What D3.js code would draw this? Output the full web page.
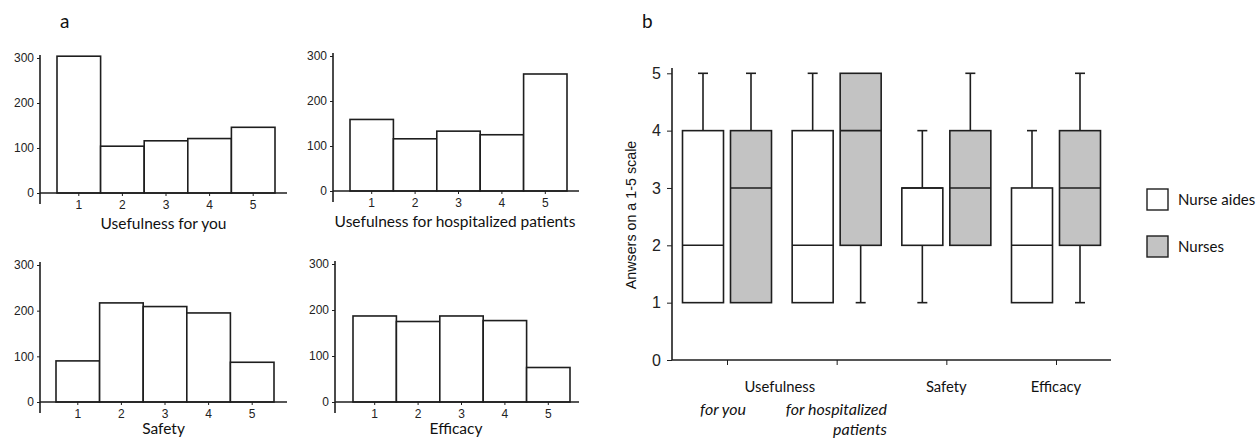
<!DOCTYPE html>
<html>
<head>
<meta charset="utf-8">
<script src="https://cdn.jsdelivr.net/npm/d3@7"></script>
<style>
  html, body { margin: 0; padding: 0; background: #fff; }
  svg { display: block; }
  .tick text { fill: #222; }
</style>
</head>
<body>
<svg id="chart" width="1258" height="438"></svg>
<script>
// ---------- DATA ----------
const histCategories = [1, 2, 3, 4, 5];
const usefulnessForYou = [304, 104, 116, 121, 146];
const usefulnessForPatients = [159, 116, 133, 125, 260];
const safetyCounts = [90, 217, 209, 195, 87];
const efficacyCounts = [187, 175, 187, 177, 75];
const histTicks = [0, 100, 200, 300];
const histTitles = ["Usefulness for you", "Usefulness for hospitalized patients", "Safety", "Efficacy"];

const boxGroups = ["for you", "for hospitalized patients", "Safety", "Efficacy"];
// [min, q1, median, q3, max]
const nurseAidesStats = [[1, 1, 2, 4, 5], [1, 1, 2, 4, 5], [1, 2, 3, 3, 4], [1, 1, 2, 3, 4]];
const nursesStats = [[1, 1, 3, 4, 5], [1, 2, 4, 5, 5], [2, 2, 3, 4, 5], [1, 2, 3, 4, 5]];
const boxTicks = [0, 1, 2, 3, 4, 5];
const seriesNames = ["Nurse aides", "Nurses"];
const seriesColors = ["#ffffff", "#c3c3c3"];

// ---------- SETUP ----------
const svg = d3.select("#chart");
const ink = "#1e1e1e";
const tickFont = "Liberation Sans, Arial, sans-serif";
const textFont = "Lato, 'Open Sans', sans-serif";

// panel letters
svg.append("text").attr("x", 60).attr("y", 28).text("a")
  .attr("font-family", textFont).attr("font-size", 19).attr("fill", "#111");
svg.append("text").attr("x", 642).attr("y", 28).text("b")
  .attr("font-family", textFont).attr("font-size", 19).attr("fill", "#111");

// ---------- PANEL A: histograms ----------
const histLayouts = [
  { axisX: 40, band: [57, 275], axisEnd: 287, yr: [193, 58] },
  { axisX: 333, band: [350, 567], axisEnd: 579, yr: [191, 56] },
  { axisX: 40, band: [56, 274], axisEnd: 287, yr: [402, 265] },
  { axisX: 335, band: [353, 570], axisEnd: 579, yr: [402, 264] }
];
const histData = [usefulnessForYou, usefulnessForPatients, safetyCounts, efficacyCounts];

histData.forEach((vals, i) => {
  const L = histLayouts[i];
  const x = d3.scaleBand().domain(histCategories).range(L.band).padding(0);
  const y = d3.scaleLinear().domain([0, 300]).range(L.yr);
  const g = svg.append("g");

  // bars
  g.selectAll("rect").data(vals).join("rect")
    .attr("x", (d, j) => x(histCategories[j]))
    .attr("y", d => y(d))
    .attr("width", x.bandwidth())
    .attr("height", d => y(0) - y(d))
    .attr("fill", "#fff").attr("stroke", ink).attr("stroke-width", 1.6);

  // y axis
  const ya = g.append("g").attr("transform", `translate(${L.axisX},0)`)
    .call(d3.axisLeft(y).tickValues(histTicks).tickSize(3).tickPadding(3));
  ya.select(".domain").remove();
  ya.selectAll("text").attr("font-family", tickFont).attr("font-size", 12);
  ya.selectAll("line").attr("stroke", ink);
  g.append("line").attr("x1", L.axisX).attr("x2", L.axisX)
    .attr("y1", L.yr[1] - 3).attr("y2", L.yr[0] + 11)
    .attr("stroke", ink).attr("stroke-width", 1.6);

  // x axis
  const xa = g.append("g").attr("transform", `translate(0,${y(0)})`)
    .call(d3.axisBottom(x).tickSize(3).tickPadding(4));
  xa.select(".domain").remove();
  xa.selectAll("text").attr("font-family", tickFont).attr("font-size", 12);
  xa.selectAll("line").attr("stroke", ink);
  g.append("line").attr("x1", L.axisX).attr("x2", L.axisEnd)
    .attr("y1", y(0)).attr("y2", y(0))
    .attr("stroke", ink).attr("stroke-width", 1.6);

  // title
  g.append("text")
    .attr("x", (L.axisX + L.axisEnd) / 2 + (i % 2 ? -1 : 0))
    .attr("y", Math.min(y(0) + 36, 434))
    .attr("text-anchor", "middle")
    .attr("font-family", textFont).attr("font-size", 15.5).attr("fill", "#111")
    .text(histTitles[i]);
});

// ---------- PANEL B: box plots ----------
const bx = d3.scalePoint().domain(boxGroups).range([727, 1056]).padding(0);
const by = d3.scaleLinear().domain([0, 5]).range([360, 73.3]);
const boxW = 41, offset = 24, capW = 10;
const gb = svg.append("g");

[nurseAidesStats, nursesStats].forEach((series, s) => {
  series.forEach((st, gi) => {
    const [mn, q1, md, q3, mx] = st;
    const cx = bx(boxGroups[gi]) + (s === 0 ? -offset : offset);
    const gg = gb.append("g");
    // whiskers
    if (mx > q3) {
      gg.append("line").attr("x1", cx).attr("x2", cx).attr("y1", by(q3)).attr("y2", by(mx))
        .attr("stroke", ink).attr("stroke-width", 1.6);
      gg.append("line").attr("x1", cx - capW / 2).attr("x2", cx + capW / 2).attr("y1", by(mx)).attr("y2", by(mx))
        .attr("stroke", ink).attr("stroke-width", 1.6);
    }
    if (mn < q1) {
      gg.append("line").attr("x1", cx).attr("x2", cx).attr("y1", by(q1)).attr("y2", by(mn))
        .attr("stroke", ink).attr("stroke-width", 1.6);
      gg.append("line").attr("x1", cx - capW / 2).attr("x2", cx + capW / 2).attr("y1", by(mn)).attr("y2", by(mn))
        .attr("stroke", ink).attr("stroke-width", 1.6);
    }
    gg.append("rect").attr("x", cx - boxW / 2).attr("y", by(q3))
      .attr("width", boxW).attr("height", by(q1) - by(q3))
      .attr("fill", seriesColors[s]).attr("stroke", ink).attr("stroke-width", 1.6);
    gg.append("line").attr("x1", cx - boxW / 2).attr("x2", cx + boxW / 2).attr("y1", by(md)).attr("y2", by(md))
      .attr("stroke", ink).attr("stroke-width", 1.6);
  });
});

// y axis
const bya = gb.append("g").attr("transform", "translate(672,0)")
  .call(d3.axisLeft(by).tickValues(boxTicks).tickFormat(d3.format("d")).tickSize(5).tickPadding(6));
bya.select(".domain").remove();
bya.selectAll("text").attr("font-family", tickFont).attr("font-size", 16);
bya.selectAll("line").attr("stroke", ink);
gb.append("line").attr("x1", 672).attr("x2", 672).attr("y1", 68).attr("y2", by(0))
  .attr("stroke", ink).attr("stroke-width", 1.6);

// x axis
const bxa = gb.append("g").attr("transform", `translate(0,${by(0)})`)
  .call(d3.axisBottom(bx).tickSize(5).tickFormat(""));
bxa.select(".domain").remove();
bxa.selectAll("line").attr("stroke", ink);
gb.append("line").attr("x1", 672).attr("x2", 1111).attr("y1", by(0)).attr("y2", by(0))
  .attr("stroke", ink).attr("stroke-width", 1.6);

// y axis title
gb.append("text")
  .attr("transform", "translate(636,215) rotate(-90)")
  .attr("text-anchor", "middle")
  .attr("font-family", tickFont).attr("font-size", 14.3).attr("fill", "#111")
  .text("Anwsers on a 1-5 scale");

// x category labels
const lab = (x, y, t, anchor, italic) => gb.append("text")
  .attr("x", x).attr("y", y).attr("text-anchor", anchor)
  .attr("font-family", textFont).attr("font-size", italic ? 16 : 14.8).attr("fill", "#111")
  .attr("font-style", italic ? "italic" : "normal").text(t);
lab((bx(boxGroups[0]) + bx(boxGroups[1])) / 2 - 2, 392, "Usefulness", "middle", false);
lab(bx(boxGroups[2]), 392, "Safety", "middle", false);
lab(bx(boxGroups[3]), 392, "Efficacy", "middle", false);
lab(bx(boxGroups[0]) - 4, 415, "for you", "middle", true);
lab(887, 415, "for hospitalized", "end", true);
lab(887, 435, "patients", "end", true);

// legend
const lg = svg.append("g");
seriesNames.forEach((n, i) => {
  const yy = 189 + i * 47;
  lg.append("rect").attr("x", 1147).attr("y", yy).attr("width", 21).attr("height", 21)
    .attr("fill", seriesColors[i]).attr("stroke", ink).attr("stroke-width", 1.4);
  lg.append("text").attr("x", 1178).attr("y", yy + 15.5)
    .attr("font-family", textFont).attr("font-size", 15).attr("fill", "#111").text(n);
});
</script>
</body>
</html>
